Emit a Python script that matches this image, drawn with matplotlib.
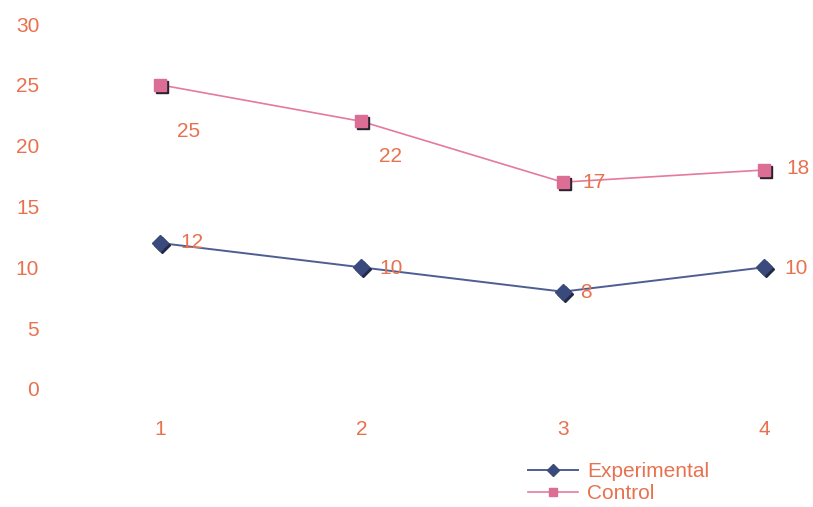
import matplotlib
matplotlib.use("Agg")
import matplotlib.pyplot as plt
from matplotlib.transforms import ScaledTranslation
from matplotlib.lines import Line2D

sessions = [1, 2, 3, 4]
experimental = [12, 10, 8, 10]
control = [25, 22, 17, 18]
y_ticks = [0, 5, 10, 15, 20, 25, 30]

text_color = "#E8714F"
exp_line = "#4F5E92"
exp_marker = "#3A4A7C"
ctl_line = "#E57A9C"
ctl_marker = "#DC6E96"
shadow = "#2A2230"
FS = 15

plt.rcParams["font.family"] = ["Liberation Sans", "DejaVu Sans"]

W, H = 813, 507
fig = plt.figure(figsize=(W / 100, H / 100), dpi=100)
fig.patch.set_facecolor("white")

# axes spans pixels x 60..813, y 24..389 (top-down)
left_px, right_px = 60, 813
ax = fig.add_axes([left_px / W, (H - 389) / H, (right_px - left_px) / W, (389 - 24) / H])
px_per_unit = (764 - 160) / 3
ax.set_xlim(1 - (160 - left_px) / px_per_unit, 4 + (right_px - 764) / px_per_unit)
ax.set_ylim(0, 30)
for s in ax.spines.values():
    s.set_visible(False)
ax.set_xticks(sessions)
ax.set_yticks(y_ticks)
ax.tick_params(length=0, labelsize=FS, colors=text_color)
ax.tick_params(axis="y", pad=15)
ax.tick_params(axis="x", pad=22)

sh = ScaledTranslation(2 / 100, -2 / 100, fig.dpi_scale_trans)

# control series
ax.plot(sessions, control, color=ctl_line, lw=1.2, zorder=2)
ax.plot(sessions, control, ls="none", marker="s", ms=9, color=shadow,
        transform=ax.transData + sh, zorder=3)
ax.plot(sessions, control, ls="none", marker="s", ms=9, color=ctl_marker, zorder=4)

# experimental series
ax.plot(sessions, experimental, color=exp_line, lw=1.4, zorder=2)
ax.plot(sessions, experimental, ls="none", marker="D", ms=8, color="#222a44",
        transform=ax.transData + sh, zorder=3)
ax.plot(sessions, experimental, ls="none", marker="D", ms=8, color=exp_marker, zorder=4)

# value labels (offsets in pixels)
ctl_offsets = [(17, -47), (18, -35), (20, 0), (22, 2)]
exp_offsets = [(20, 0), (18, -1), (17, -1), (20, -1)]
for x, v, (dx, dy) in zip(sessions, control, ctl_offsets):
    ax.annotate(str(v), (x, v), xytext=(dx * 0.72, dy * 0.72), textcoords="offset points",
                color=text_color, fontsize=FS, va="center", ha="left")
for x, v, (dx, dy) in zip(sessions, experimental, exp_offsets):
    ax.annotate(str(v), (x, v), xytext=(dx * 0.72, dy * 0.72), textcoords="offset points",
                color=text_color, fontsize=FS, va="center", ha="left")

handles = [
    Line2D([], [], color=exp_line, lw=1.4, marker="D", ms=6, mfc=exp_marker, mec=exp_marker),
    Line2D([], [], color=ctl_line, lw=1.2, marker="s", ms=6, mfc=ctl_marker, mec=ctl_marker),
]
fig.legend(handles, ["Experimental", "Control"], loc="upper left",
           bbox_to_anchor=(528 / W, (H - 462) / H), frameon=False,
           fontsize=FS, labelcolor=text_color, handlelength=2.4, handletextpad=0.45,
           labelspacing=0.15, borderpad=0, borderaxespad=0)

fig.savefig("out.png", dpi=100)
